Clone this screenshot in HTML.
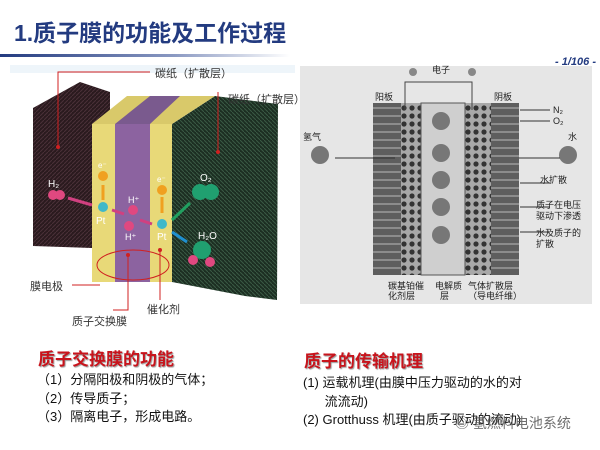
<!DOCTYPE html>
<html><head><meta charset="utf-8"><style>
body{margin:0;width:600px;height:450px;background:#fff;overflow:hidden;position:relative;font-family:"Liberation Sans","Noto Sans CJK SC",sans-serif}
.t{position:absolute;white-space:nowrap}
</style></head><body>
<div class="t" style="left:14px;top:14px;font-size:23px;font-weight:bold;color:#233b80">1.质子膜的功能及工作过程</div>
<div style="position:absolute;left:0;top:54px;width:290px;height:3px;background:linear-gradient(90deg,#233b80,#8a99c2 60%,#fff)"></div>
<div class="t" style="right:4px;top:56px;font-size:11px;font-weight:bold;font-style:italic;color:#233b80">- 1/106 -</div>
<svg style="position:absolute;left:0;top:0" width="600" height="450">
<defs>
<pattern id="fb" width="4" height="4" patternUnits="userSpaceOnUse"><rect width="4" height="4" fill="#2a1a1e"/><path d="M0 4L4 0" stroke="#4a3038" stroke-width="1"/></pattern>
<pattern id="fg" width="4" height="4" patternUnits="userSpaceOnUse"><rect width="4" height="4" fill="#1c2e22"/><path d="M0 0L4 4" stroke="#3a5a44" stroke-width="1"/></pattern>
<pattern id="dots" width="8" height="8" patternUnits="userSpaceOnUse"><rect width="8" height="8" fill="#a8a8a8"/><circle cx="4" cy="4" r="2.6" fill="#333"/></pattern>
</defs>
<rect x="10" y="65" width="285" height="8" fill="#eef5fa"/>
<polygon points="33,108 80,82 110,92 110,245 92,248 33,246" fill="url(#fb)"/>
<polygon points="172,124 215,96 278,104 277,300 245,296 172,282" fill="url(#fg)"/>
<polygon points="92,124 127,96 215,96 172,124" fill="#d9c96a"/>
<polygon points="115,124 150,96 180,96 150,124" fill="#7a5a8e"/>
<rect x="92" y="124" width="23" height="158" fill="#e8d978"/>
<rect x="115" y="124" width="35" height="158" fill="#8c63a0"/>
<rect x="150" y="124" width="22" height="158" fill="#e8d978"/>
<g stroke="#d02020" stroke-width="1" fill="none">
<polyline points="58,147 58,72 150,72"/>
<polyline points="218,152 218,92"/>
<polyline points="72,285 100,285"/>
<ellipse cx="133" cy="265" rx="36" ry="15"/>
<polyline points="128,255 128,310 113,310"/>
<polyline points="160,250 160,300"/>
</g>
<circle cx="58" cy="147" r="2" fill="#d02020"/><circle cx="218" cy="152" r="2" fill="#d02020"/>
<circle cx="128" cy="255" r="2" fill="#d02020"/><circle cx="160" cy="250" r="2" fill="#d02020"/>
<g font-size="11" fill="#333">
<text x="155" y="77">碳纸（扩散层）</text>
<text x="228" y="103">碳纸（扩散层）</text>
<text x="30" y="290">膜电极</text>
<text x="72" y="325">质子交换膜</text>
<text x="147" y="313">催化剂</text>
</g>
<circle cx="53" cy="195" r="5" fill="#e04880"/><circle cx="60" cy="195" r="5" fill="#e04880"/>
<text x="48" y="187" font-size="10" fill="#fff">H₂</text>
<path d="M68 198 L92 205" stroke="#d04080" stroke-width="3"/>
<circle cx="103" cy="207" r="5" fill="#40b8c8"/><text x="96" y="224" font-size="10" fill="#fff">Pt</text>
<circle cx="103" cy="176" r="5" fill="#f0a020"/><text x="98" y="168" font-size="8" fill="#fff">e⁻</text>
<path d="M103 200 L103 185" stroke="#f0a020" stroke-width="3"/>
<circle cx="133" cy="210" r="5" fill="#e04880"/><text x="128" y="203" font-size="9" fill="#fff">H⁺</text>
<circle cx="129" cy="226" r="5" fill="#e04880"/><text x="125" y="240" font-size="9" fill="#fff">H⁺</text>
<path d="M112 210 L124 214 M140 220 L152 224" stroke="#d04080" stroke-width="3"/>
<circle cx="162" cy="224" r="5" fill="#40b8c8"/><text x="157" y="240" font-size="10" fill="#fff">Pt</text>
<circle cx="162" cy="190" r="5" fill="#f0a020"/><text x="157" y="182" font-size="8" fill="#fff">e⁻</text>
<path d="M162 197 L162 213" stroke="#f0a020" stroke-width="3"/>
<circle cx="200" cy="192" r="8" fill="#20a070"/><circle cx="211" cy="192" r="8" fill="#20a070"/>
<text x="200" y="181" font-size="10" fill="#fff">O₂</text>
<path d="M190 203 L172 220" stroke="#20a060" stroke-width="3"/>
<path d="M172 232 L187 242" stroke="#2090d0" stroke-width="3"/>
<circle cx="202" cy="250" r="9" fill="#20a070"/><circle cx="193" cy="260" r="5" fill="#e04880"/><circle cx="210" cy="262" r="5" fill="#e04880"/>
<text x="198" y="239" font-size="10" fill="#fff">H₂O</text>
<rect x="300" y="66" width="292" height="238" fill="#e6e6e6"/>
<rect x="373" y="103" width="28" height="172" fill="#5e5e5e"/>
<rect x="491" y="103" width="28" height="172" fill="#5e5e5e"/>
<g stroke="#bbb" stroke-width="1">
<path d="M373 108H401M373 116H401M373 124H401M373 132H401M373 140H401M373 148H401M373 156H401M373 164H401M373 172H401M373 180H401M373 188H401M373 196H401M373 204H401M373 212H401M373 220H401M373 228H401M373 236H401M373 244H401M373 252H401M373 260H401M373 268H401"/>
<path d="M491 108H519M491 116H519M491 124H519M491 132H519M491 140H519M491 148H519M491 156H519M491 164H519M491 172H519M491 180H519M491 188H519M491 196H519M491 204H519M491 212H519M491 220H519M491 228H519M491 236H519M491 244H519M491 252H519M491 260H519M491 268H519"/>
</g>
<rect x="401" y="103" width="20" height="172" fill="url(#dots)"/>
<rect x="465" y="103" width="26" height="172" fill="url(#dots)"/>
<rect x="421" y="103" width="44" height="172" fill="#cfcfcf" stroke="#555"/>
<polyline points="405,110 405,82 472,82 472,110" fill="none" stroke="#444"/>
<circle cx="413" cy="72" r="4" fill="#888"/><circle cx="472" cy="72" r="4" fill="#888"/>
<g fill="#777"><circle cx="441" cy="121" r="9"/><circle cx="441" cy="153" r="9"/><circle cx="441" cy="180" r="9"/><circle cx="441" cy="207" r="9"/><circle cx="441" cy="235" r="9"/>
<circle cx="320" cy="155" r="9"/><circle cx="568" cy="155" r="9"/></g>
<g stroke="#333" stroke-width="1"><path d="M335 158H395M519 158H560M520 110H550M520 121H550M520 183H550M520 207H550M520 232H550"/></g>
<g font-size="9" fill="#222"><text x="432" y="73">电子</text><text x="375" y="100">阳板</text><text x="494" y="100">阴板</text>
<text x="303" y="140">氢气</text><text x="568" y="140">水</text><text x="553" y="113">N₂</text><text x="553" y="124">O₂</text>
<text x="540" y="183">水扩散</text><text x="536" y="208">质子在电压</text><text x="536" y="219">驱动下渗透</text><text x="536" y="236">水及质子的</text><text x="536" y="247">扩散</text>
<text x="388" y="289">碳基铂催</text><text x="388" y="299">化剂层</text><text x="435" y="289">电解质</text><text x="440" y="299">层</text><text x="468" y="289">气体扩散层</text><text x="468" y="299">（导电纤维）</text></g>
</svg>
<div class="t" style="left:38px;top:345px;font-size:17px;font-weight:bold;color:#c8141c;text-shadow:1px 1px 1px #999">质子交换膜的功能</div>
<div class="t" style="left:37px;top:371px;font-size:13px;color:#111;line-height:18.5px">（1）分隔阳极和阴极的气体；<br>（2）传导质子；<br>（3）隔离电子，形成电路。</div>
<div class="t" style="left:304px;top:347px;font-size:17px;font-weight:bold;color:#c8141c;text-shadow:1px 1px 1px #999">质子的传输机理</div>
<div class="t" style="left:303px;top:374px;font-size:13px;color:#111;line-height:18.5px">(1) 运载机理(由膜中压力驱动的水的对<br>&nbsp;&nbsp;&nbsp;&nbsp;&nbsp;&nbsp;流流动)<br>(2) Grotthuss 机理(由质子驱动的流动)</div>
<div class="t" style="left:455px;top:413px;font-size:14px;color:#555;opacity:.85">◎ 氢燃料电池系统</div>
</body></html>
